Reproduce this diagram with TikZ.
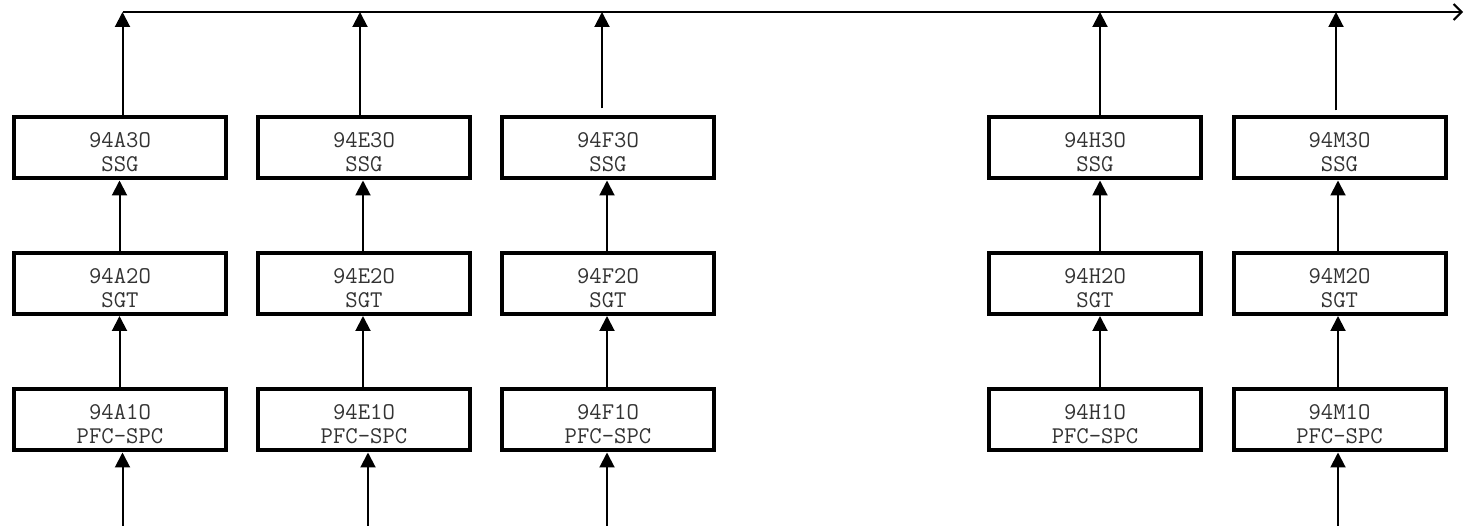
\documentclass[tikz,border=0pt]{standalone}
\usepackage{fontspec}
\usetikzlibrary{arrows.meta}
\begin{document}
\begin{tikzpicture}[x=1pt,y=-1pt,
  box/.style={draw, line width=4pt, minimum width=212pt, minimum height=61pt, inner sep=0pt},
  lbl/.style={font=\ttfamily\fontsize{24}{24}\selectfont, text=black!80, inner sep=0pt, anchor=base},
  conn/.style={line width=2pt, -{Triangle[length=15pt,width=15pt]}},
  bus/.style={line width=2pt, -{Straight Barb[length=8pt,width=16pt]}}
]
\useasboundingbox (0,0) rectangle (1465,526);
% columns: name / centre x / top shift / mid shift / top-arrow gap
\foreach \n/\c/\t/\m/\g in {A/120/2.5/-0.5/0, E/364/-4/-1/0, F/608/-6/-1/7, H/1095/5/5/-3, M/1339.5/-3.5/-1.5/5}{
  \node[box] (\n3) at (\c,148) {};
  \node[box] (\n2) at (\c,283.5) {};
  \node[box] (\n1) at (\c,420) {};
  \node[lbl] (\n3a) at (\c,148) {94\n3O};
  \node[lbl] (\n3b) at (\c,172) {SSG};
  \node[lbl] (\n2a) at (\c,283.5) {94\n2O};
  \node[lbl] (\n2b) at (\c,307.5) {SGT};
  \node[lbl] (\n1a) at (\c,420) {94\n1O};
  \node[lbl] (\n1b) at (\c,444) {PFC-SPC};
  \coordinate (\n-bus) at ([xshift=\t pt]\c,12);
  \draw[conn] ([xshift=\t pt, yshift=\g pt]\n3.north) -- (\n-bus);
  \draw[conn] ([xshift=\m pt]\n2.north) -- ([xshift=\m pt]\n3.south);
  \draw[conn] ([xshift=\m pt]\n1.north) -- ([xshift=\m pt]\n2.south);
}
% inputs
\foreach \n/\s in {A/2.5, E/4, F/-1, M/-1.5}{
  \coordinate (\n-in) at ([xshift=\s pt]\n1.south |- 0,526);
  \draw[conn] (\n-in) -- ([xshift=\s pt]\n1.south);
}
\coordinate (bus-end) at (1463,12);
\draw[bus] (A-bus) -- (bus-end);
\end{tikzpicture}
\end{document}
